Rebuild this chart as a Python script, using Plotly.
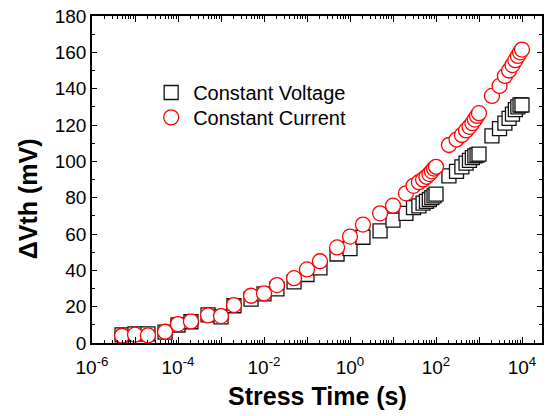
import plotly.graph_objects as go

# Stress time (s)
stress_time = [5e-6, 1e-5, 2e-5, 5e-5, 1e-4, 2e-4, 5e-4, 1e-3, 2e-3, 5e-3,
               1e-2, 2e-2, 5e-2, 0.1, 0.2, 0.5, 1, 2, 5, 10,
               20, 30, 40, 50, 60, 70, 80, 90, 100,
               200, 300, 400, 500, 600, 700, 800, 900, 1000,
               2000, 3000, 4000, 5000, 6000, 7000, 8000, 9000, 10000]

# Delta Vth (mV)
constant_voltage = [4.5, 5.0, 5.0, 6.0, 9.9, 11.7, 15.5, 14.4, 20.5, 24.2,
                    27.0, 29.8, 33.7, 37.7, 41.4, 49.0, 52.0, 58.2, 61.7, 67.6,
                    71.4, 74.5, 75.5, 77.0, 78.0, 79.0, 80.0, 81.0, 82.0,
                    92.0, 94.5, 97.0, 99.0, 100.5, 102.0, 103.0, 103.5, 104.0,
                    114.0, 118.0, 121.0, 123.6, 126.0, 128.5, 130.0, 131.0, 131.0]

constant_current = [4.0, 4.6, 4.2, 6.2, 10.4, 11.9, 15.2, 14.8, 20.9, 26.0,
                    27.3, 31.9, 35.7, 40.5, 45.0, 52.6, 58.6, 65.2, 71.4, 75.6,
                    82.4, 86.5, 88.5, 90.0, 91.5, 93.0, 94.5, 96.0, 97.0,
                    109.0, 112.0, 114.5, 117.0, 119.0, 121.0, 123.0, 125.0, 126.5,
                    136.0, 141.5, 147.0, 150.0, 153.0, 155.7, 158.0, 160.0, 161.5]

x_tick_vals = [1e-6, 1e-5, 1e-4, 1e-3, 1e-2, 1e-1, 1e0, 1e1, 1e2, 1e3, 1e4]
x_tick_text = ["10<sup>-6</sup>", "", "10<sup>-4</sup>", "", "10<sup>-2</sup>", "",
               "10<sup>0</sup>", "", "10<sup>2</sup>", "", "10<sup>4</sup>"]

x_minor_vals = [m * d for d in x_tick_vals for m in range(2, 10)]

FONT = "Liberation Sans, Arial, sans-serif"

fig = go.Figure()
fig.add_trace(go.Scatter(
    x=stress_time, y=constant_voltage, mode="markers", name="Constant Voltage",
    legend="legend",
    marker=dict(symbol="square", size=14, color="white",
                line=dict(color="#111111", width=1.3)),
))
fig.add_trace(go.Scatter(
    x=stress_time, y=constant_current, mode="markers", name="Constant Current",
    legend="legend2",
    marker=dict(symbol="circle", size=15, color="white",
                line=dict(color="#ff0000", width=1.3)),
))

axis_common = dict(
    showline=True, linecolor="black", linewidth=1.5, mirror="ticks",
    ticks="inside", tickcolor="black", tickwidth=1.2, showgrid=False,
    zeroline=False, automargin=False,
    tickfont=dict(family=FONT, size=19, color="black"),
)

fig.update_xaxes(
    type="log", range=[-6, 4.465],
    tickmode="array", tickvals=x_tick_vals, ticktext=x_tick_text, ticklen=6,
    ticklabelstandoff=6,
    minor=dict(tickmode="array", tickvals=x_minor_vals, ticks="inside",
               ticklen=3, tickcolor="black", tickwidth=1, showgrid=False),
    **axis_common,
)
fig.update_yaxes(
    range=[0, 180], dtick=20, ticklen=5,
    minor=dict(dtick=10, ticks="inside", ticklen=3, tickcolor="black",
               tickwidth=1, showgrid=False),
    **axis_common,
)

fig.add_annotation(
    text="<b>Stress Time (s)</b>", xref="paper", yref="paper",
    x=0.5, y=-0.163, xanchor="center", yanchor="middle", showarrow=False,
    font=dict(family=FONT, size=25, color="black"),
)
fig.add_annotation(
    text="<b>ΔVth (mV)</b>", xref="paper", yref="paper",
    x=-0.1416, y=0.4405, xanchor="center", yanchor="middle", showarrow=False,
    textangle=-90, font=dict(family=FONT, size=25, color="black"),
)

legend_style = dict(xanchor="left", yanchor="middle", bgcolor="rgba(0,0,0,0)",
                    font=dict(family=FONT, size=20, color="black"), itemwidth=34)

fig.update_layout(
    width=551, height=416,
    margin=dict(l=92, r=9, t=16, b=73),
    plot_bgcolor="white", paper_bgcolor="white",
    showlegend=True,
    legend=dict(x=0.127, y=0.766, **legend_style),
    legend2=dict(x=0.127, y=0.690, **legend_style),
)

fig.write_html(
    "out.html",
    config={"displayModeBar": False},
    post_script="document.body.style.margin='0px';document.body.style.overflow='hidden';",
)
